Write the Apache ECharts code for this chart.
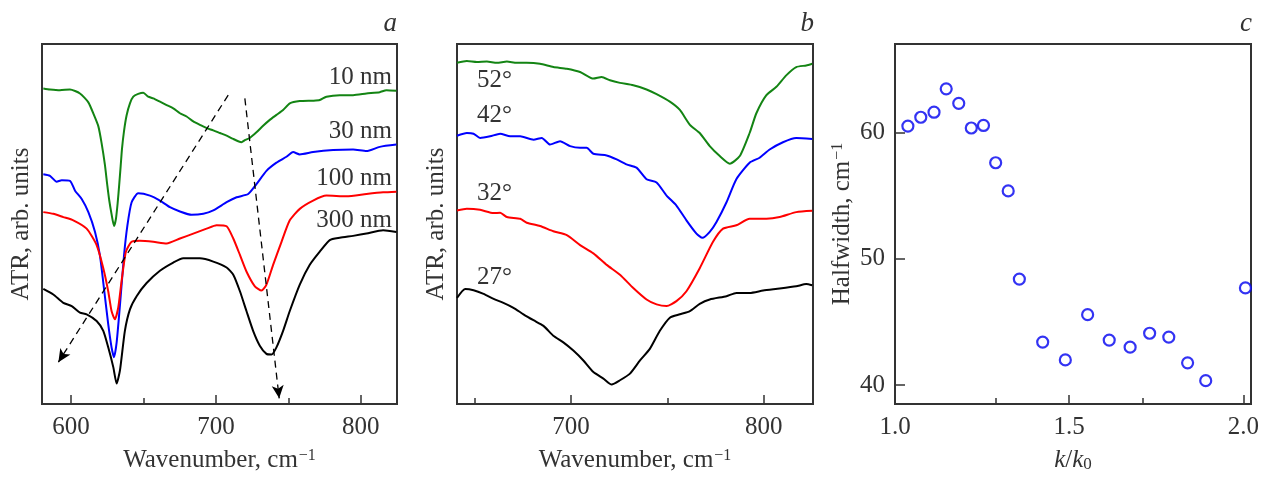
<!DOCTYPE html>
<html><head><meta charset="utf-8">
<script src="https://cdn.jsdelivr.net/npm/echarts@6/dist/echarts.min.js"></script>
<style>html,body{margin:0;padding:0;background:#fff}#c{width:1262px;height:478px}</style>
</head><body><div id="c"></div>
<script>
// ---------- Panel a: ATR spectra for different film thicknesses ----------
const thicknessLabels = ['10 nm', '30 nm', '100 nm', '300 nm'];
const atr10nm = [[580.9,319.0],[585.5,318.0],[592.4,317.3],[599.3,318.0],[606.2,314.0],[612.0,305.0],[615.9,292.0],[618.9,280.7],[621.1,264.0],[623.4,242.0],[625.1,220.7],[626.4,206.0],[628.0,192.0],[629.7,180.0],[631.0,187.0],[632.2,203.0],[633.3,222.0],[634.3,240.7],[635.2,258.0],[636.6,276.0],[638.4,292.0],[640.7,304.0],[643.0,310.7],[646.4,313.5],[649.9,314.7],[653.3,310.7],[656.8,309.0],[661.4,305.7],[666.0,302.3],[670.6,299.0],[675.2,294.0],[679.8,290.7],[684.4,285.7],[689.0,282.3],[693.6,279.0],[698.2,276.7],[702.8,274.0],[707.4,271.3],[712.0,268.0],[715.4,265.7],[717.7,264.7],[720.0,266.7],[723.4,269.0],[728.0,274.7],[732.6,281.3],[737.2,287.3],[741.8,292.3],[746.4,297.3],[751.0,304.0],[757.9,306.3],[767.1,306.7],[771.7,307.3],[776.3,310.7],[785.5,312.3],[794.7,312.3],[803.9,314.0],[813.1,315.3],[817.7,317.3],[824.6,316.7]];
const atr30nm = [[580.9,232.3],[585.5,230.7],[590.1,224.7],[593.6,226.3],[599.3,225.7],[602.8,215.7],[607.4,207.3],[612.0,194.0],[616.6,174.0],[620.0,150.0],[623.0,114.0],[625.7,80.7],[628.0,57.3],[629.7,47.3],[631.5,62.0],[633.8,100.0],[636.6,150.0],[638.9,180.0],[641.8,203.7],[646.4,213.0],[654.5,210.7],[661.4,205.7],[668.3,199.0],[675.2,194.7],[683.2,191.3],[691.3,192.3],[698.2,195.7],[707.4,204.0],[714.3,209.0],[722.3,212.3],[728.0,222.3],[734.9,235.7],[741.8,244.0],[748.7,250.0],[753.3,254.7],[757.9,252.3],[767.1,254.7],[780.9,256.7],[794.7,257.3],[803.9,255.7],[813.1,260.0],[824.6,262.3]];
const atr100nm = [[580.9,194.0],[587.8,192.3],[594.7,189.0],[601.6,185.7],[610.8,177.3],[617.7,160.7],[622.3,137.3],[625.7,114.0],[628.0,94.0],[630.3,85.7],[632.6,97.3],[634.9,124.0],[637.9,154.0],[641.8,164.0],[647.6,165.0],[656.8,164.0],[666.0,162.3],[675.2,167.3],[684.4,172.3],[693.6,177.3],[700.5,180.7],[707.4,179.7],[712.0,167.3],[716.6,150.7],[721.1,134.0],[726.9,119.0],[731.5,114.7],[734.9,120.7],[739.5,140.7],[745.3,164.0],[751.0,185.7],[757.9,197.3],[767.1,205.7],[776.3,210.7],[790.1,210.0],[803.9,212.3],[815.4,214.0],[824.6,214.7]];
const atr300nm = [[580.9,116.3],[587.8,110.7],[594.7,102.3],[600.5,99.0],[606.2,92.3],[610.8,90.7],[617.7,84.0],[622.3,74.0],[625.7,57.3],[629.2,37.3],[631.5,20.7],[633.8,34.0],[637.2,74.0],[640.7,95.7],[645.3,109.0],[652.2,122.3],[661.4,134.7],[670.6,143.0],[677.5,147.3],[689.0,147.3],[698.2,144.0],[707.4,138.0],[712.0,130.7],[716.6,114.0],[721.1,94.0],[725.7,74.0],[730.3,59.0],[734.9,50.7],[738.4,50.0],[741.8,57.3],[746.4,74.0],[751.0,94.0],[757.9,120.7],[764.8,140.7],[771.7,154.0],[778.6,165.7],[785.5,168.0],[794.7,170.0],[803.9,172.3],[815.4,175.7],[824.6,174.0]];
// dashed guide arrows (start, end) in data units
const arrowLow = [[708.5,312.3],[591.3,42.3]];
const arrowHigh = [[720.0,309.0],[743.7,5.7]];

// ---------- Panel b: ATR spectra for different angles ----------
const angleLabels = ['52°', '42°', '32°', '27°'];
const atr52 = [[640.8,345.0],[645.9,346.7],[651.1,345.7],[656.3,346.3],[661.5,345.0],[666.7,346.3],[671.8,345.0],[677.0,345.0],[683.9,344.0],[690.8,340.7],[697.8,339.0],[704.7,335.7],[711.6,329.0],[715.9,330.7],[720.2,327.3],[725.4,324.7],[732.3,322.3],[739.2,318.0],[744.4,313.3],[751.3,305.7],[756.5,297.3],[761.7,282.3],[766.8,274.0],[772.0,260.7],[777.2,250.7],[782.4,243.0],[787.6,250.7],[792.7,274.0],[796.2,294.0],[801.4,312.3],[806.6,320.7],[811.7,332.3],[816.9,340.7],[822.1,342.3],[825.2,344.0]];
const atr42 = [[640.8,271.3],[645.9,274.0],[649.4,273.3],[652.8,269.0],[658.0,270.7],[663.2,273.3],[668.4,270.7],[673.6,270.7],[680.5,267.3],[684.8,269.0],[689.1,262.3],[694.3,265.7],[699.5,260.7],[704.7,259.0],[708.1,259.0],[711.6,253.0],[718.5,251.3],[723.7,247.3],[728.8,242.3],[734.0,239.0],[739.2,227.3],[744.4,224.0],[749.6,210.7],[754.7,200.7],[759.9,185.7],[765.1,172.3],[768.2,168.0],[772.0,174.0],[775.5,184.0],[780.7,204.0],[785.8,227.3],[792.7,244.0],[797.9,249.0],[803.1,257.3],[810.0,264.7],[816.9,269.0],[825.2,268.0]];
const atr32 = [[640.8,195.7],[645.9,197.3],[652.8,196.3],[659.8,193.0],[663.2,193.3],[666.7,189.0],[673.6,187.3],[677.0,183.3],[683.9,180.0],[690.8,174.7],[697.8,170.7],[704.7,160.7],[711.6,152.3],[718.5,140.7],[725.4,130.7],[732.3,117.3],[739.2,105.7],[744.4,100.7],[749.6,99.0],[754.7,104.0],[759.9,114.0],[766.8,137.3],[773.7,164.0],[778.9,177.3],[785.8,180.7],[792.7,187.3],[801.4,187.3],[808.3,189.0],[816.9,194.0],[825.2,195.3]];
const atr27 = [[640.8,107.3],[645.1,116.3],[649.4,115.0],[654.6,111.3],[659.8,106.3],[664.9,102.3],[670.1,97.3],[675.3,90.7],[680.5,84.7],[685.7,79.0],[690.8,69.0],[696.0,62.3],[701.2,54.0],[706.4,44.0],[711.6,32.3],[716.8,25.7],[721.1,19.7],[725.4,24.0],[730.6,30.7],[735.8,44.0],[740.9,55.7],[746.1,74.0],[751.3,87.3],[756.5,90.7],[761.7,94.0],[766.8,101.3],[772.0,105.7],[780.7,109.0],[785.8,112.3],[792.7,112.3],[799.7,114.7],[808.3,116.7],[816.9,119.0],[822.1,121.3],[825.2,120.0]];

// ---------- Panel c: halfwidth vs k/k0 ----------
const kRatio = [1.037,1.074,1.112,1.147,1.183,1.219,1.254,1.289,1.325,1.357,1.424,1.489,1.553,1.615,1.675,1.731,1.786,1.840,1.892,2.006];
const halfwidth = [60.5,61.2,61.6,63.45,62.3,60.35,60.55,57.6,55.37,48.39,43.4,41.99,45.57,43.56,43.0,44.1,43.8,41.76,40.35,47.69];

// tick labels
const ticksA = [600, 700, 800];
const minorA = [650, 750];
const ticksB = [700, 800];
const minorB = [650, 750];
const ticksCx = [1.0, 1.5, 2.0];
const ticksCxMinor = [1.29, 1.71];
const ticksCy = [40, 50, 60];

// ---------- styling ----------
const FONT = '"Liberation Serif","Times New Roman",serif';
const TXT = '#333';
const FS = 25;
const GREEN = '#138413', BLUE = '#0000ff', RED = '#ff0000', BLACK = '#000000';

const grids = [
  {left: 42, top: 44, width: 355, height: 363},
  {left: 457, top: 44, width: 356, height: 363},
  {left: 895, top: 44, width: 356, height: 363}
].map(g => Object.assign({show: true, borderColor: '#333', borderWidth: 2, backgroundColor: 'transparent'}, g));

const supRich = {
  a: {fontFamily: FONT, fontSize: FS, color: TXT},
  s: {fontFamily: FONT, fontSize: 16, color: TXT, verticalAlign: 'top', padding: [0,0,0,1]},
  i: {fontFamily: FONT, fontSize: FS, color: TXT, fontStyle: 'italic'},
  sub: {fontFamily: FONT, fontSize: 17, color: TXT, verticalAlign: 'bottom'}
};

function mainX(grid, min, max, labels, name) {
  return {
    type: 'value', gridIndex: grid, min, max,
    axisLine: {show: false}, splitLine: {show: false},
    axisTick: {inside: true, length: 9, customValues: labels, lineStyle: {color: '#333', width: 1.5}},
    axisLabel: {customValues: labels, margin: 11, fontFamily: FONT, fontSize: FS, color: TXT,
      formatter: v => grid === 2 ? v.toFixed(1) : String(v)},
    name, nameLocation: 'middle', nameGap: 44,
    nameTextStyle: {rich: supRich}
  };
}
function minorX(grid, min, max, vals) {
  return {
    type: 'value', gridIndex: grid, min, max, position: 'bottom',
    axisLine: {show: false}, splitLine: {show: false}, axisLabel: {show: false},
    axisTick: {inside: true, length: 6, customValues: vals, lineStyle: {color: '#333', width: 1.5}}
  };
}

const xAxes = [
  mainX(0, 580, 825, ticksA, '{a|Wavenumber, cm}{s|−1}'),
  mainX(1, 640.8, 825.6, ticksB, '{a|Wavenumber, cm}{s|−1}'),
  mainX(2, 1.0, 2.022, ticksCx, '{i|k}{a|/}{i|k}{sub|0}'),
  minorX(0, 580, 825, minorA),
  minorX(1, 640.8, 825.6, minorB),
  minorX(2, 1.0, 2.022, ticksCxMinor)
];

function atrY(grid) {
  return {
    type: 'value', gridIndex: grid, min: 0, max: 364,
    axisLine: {show: false}, splitLine: {show: false}, axisTick: {show: false}, axisLabel: {show: false},
    name: 'ATR, arb. units', nameLocation: 'middle', nameGap: 8,
    nameTextStyle: {fontFamily: FONT, fontSize: FS, color: TXT}
  };
}
const yAxes = [
  atrY(0), atrY(1),
  {
    type: 'value', gridIndex: 2, min: 38.5, max: 67,
    axisLine: {show: false}, splitLine: {show: false},
    axisTick: {inside: true, length: 10, customValues: ticksCy, lineStyle: {color: '#333', width: 1.5}},
    axisLabel: {customValues: ticksCy, margin: 10, fontFamily: FONT, fontSize: FS, color: TXT},
    name: '{a|Halfwidth, cm}{s|−1}', nameLocation: 'middle', nameGap: 40,
    nameTextStyle: {rich: supRich}
  }
];

function line(data, color, xi, yi, extra) {
  return Object.assign({
    type: 'line', data, xAxisIndex: xi, yAxisIndex: yi, showSymbol: false, symbol: 'none',
    smooth: 0.2,
    lineStyle: {color, width: 2, join: 'round'}, itemStyle: {color}, silent: true, z: 3
  }, extra || {});
}

const arrowStyle = {color: '#000', width: 1.3, type: [7, 5]};
const series = [
  line(atr10nm, GREEN, 0, 0),
  line(atr30nm, BLUE, 0, 0),
  line(atr100nm, RED, 0, 0),
  line(atr300nm, BLACK, 0, 0, {
    markLine: {
      silent: true, symbol: ['none', 'arrow'], symbolSize: [9, 13], animation: false,
      label: {show: false}, lineStyle: arrowStyle,
      data: [
        [{coord: arrowLow[0]}, {coord: arrowLow[1]}],
        [{coord: arrowHigh[0]}, {coord: arrowHigh[1]}]
      ]
    }
  }),
  line(atr52, GREEN, 1, 1),
  line(atr42, BLUE, 1, 1),
  line(atr32, RED, 1, 1),
  line(atr27, BLACK, 1, 1),
  {
    type: 'scatter', xAxisIndex: 2, yAxisIndex: 2,
    data: kRatio.map((k, i) => [k, halfwidth[i]]),
    symbol: 'circle', symbolSize: 11,
    itemStyle: {color: '#ffffff', borderColor: '#0000f0', borderWidth: 2.2}, silent: true
  }
];

function txt(x, y, text, align, extra) {
  return {type: 'text', x, y, silent: true, z: 10,
    style: Object.assign({text, fontFamily: FONT, fontSize: FS, fill: TXT, align, verticalAlign: 'middle'}, extra || {})};
}
const labelYa = [77, 131, 178, 220];
const labelYb = [80, 115, 193, 277];
const graphic = [
  ...thicknessLabels.map((t, i) => txt(392, labelYa[i], t, 'right')),
  ...angleLabels.map((t, i) => txt(477, labelYb[i], t, 'left')),
  txt(397, 24, 'a', 'right', {fontStyle: 'italic', fontSize: 27}),
  txt(814, 24, 'b', 'right', {fontStyle: 'italic', fontSize: 27}),
  txt(1252, 24, 'c', 'right', {fontStyle: 'italic', fontSize: 27})
];

const chart = echarts.init(document.getElementById('c'), null, {renderer: 'canvas'});
chart.setOption({
  animation: false,
  backgroundColor: '#fff',
  grid: grids,
  xAxis: xAxes,
  yAxis: yAxes,
  series,
  graphic
});
</script>
</body></html>
